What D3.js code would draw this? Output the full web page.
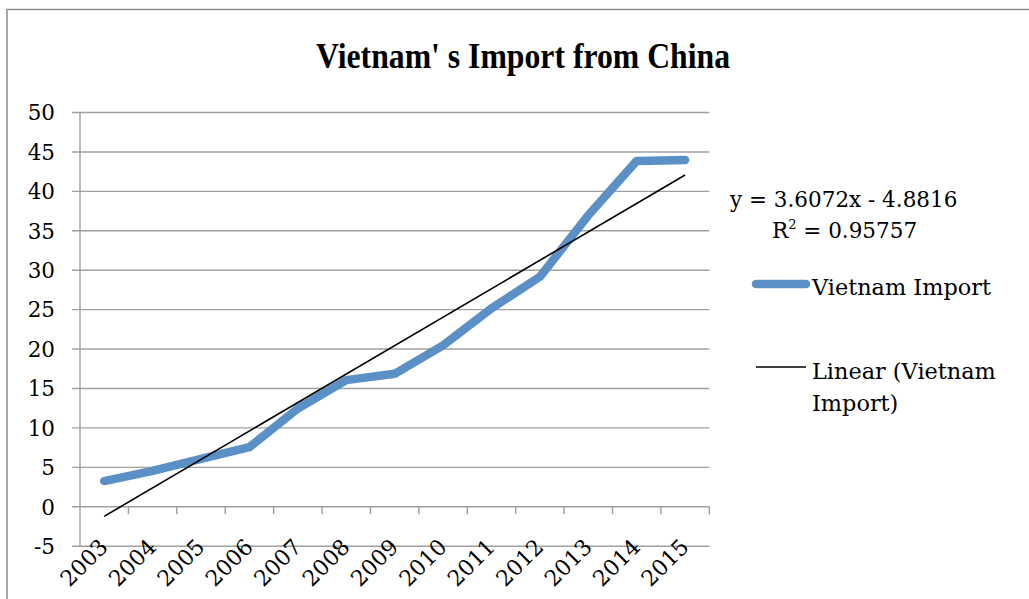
<!DOCTYPE html>
<html>
<head>
<meta charset="utf-8">
<script src="https://cdn.jsdelivr.net/npm/d3@7"></script>
<style>
  body { margin: 0; background: #fff; }
  svg { display: block; }
</style>
</head>
<body>
<svg id="chart" width="1029" height="599"></svg>
<script>
// Vietnam's imports from China, by year
const years = ["2003", "2004", "2005", "2006", "2007", "2008", "2009",
               "2010", "2011", "2012", "2013", "2014", "2015"];
const importValues = [3.2, 4.5, 6.0, 7.5, 12.4, 16.0, 16.8, 20.4, 25.1, 29.1, 36.9, 43.8, 43.9];
const yTicks = [-5, 0, 5, 10, 15, 20, 25, 30, 35, 40, 45, 50];

// Linear trend fitted over the series (x = 1..13)
const trendSlope = 3.6072;
const trendIntercept = -4.8816;
const trendR2 = 0.95757;

const chartTitle = "Vietnam' s Import from China";
const seriesName = "Vietnam Import";
const trendNameLines = ["Linear (Vietnam", "Import)"];

const FONT = "'DejaVu Serif', serif";
const GRID = "#a0a0a0";
const BLUE = "#5b90c7";

const svg = d3.select("#chart");

// frame
svg.append("path")
  .attr("d", "M7,599 L7,9.5 L1029,9.5")
  .attr("fill", "none")
  .attr("stroke", "#8c8c8c")
  .attr("stroke-width", 1.5);

const plotLeft = 80, plotRight = 709.3;
const x = d3.scaleBand().domain(years).range([plotLeft, plotRight]);
const y = d3.scaleLinear().domain([-5, 50]).range([545.7, 112]);

// title
svg.append("text")
  .attr("x", 523)
  .attr("y", 68)
  .attr("text-anchor", "middle")
  .attr("font-family", "'Liberation Serif', serif")
  .attr("font-weight", "bold")
  .attr("font-size", 35)
  .attr("textLength", 414)
  .attr("lengthAdjust", "spacingAndGlyphs")
  .text(chartTitle);

// y axis with full-width gridlines
const yAxis = svg.append("g")
  .attr("transform", "translate(72,0)")
  .call(d3.axisLeft(y).tickValues(yTicks).tickFormat(d => String(d))
    .tickSizeInner(-(plotRight - 72)).tickSizeOuter(0).tickPadding(17));
yAxis.select(".domain").remove();
yAxis.selectAll(".tick line").attr("stroke", GRID).attr("stroke-width", 1.4);
yAxis.selectAll(".tick text")
  .attr("font-family", FONT)
  .attr("font-size", 21.5)
  .attr("fill", "#000")
  .attr("dy", "0.36em");

// vertical axis line
svg.append("line")
  .attr("x1", plotLeft).attr("x2", plotLeft)
  .attr("y1", y(50)).attr("y2", y(-5))
  .attr("stroke", GRID).attr("stroke-width", 1.4);

// category tick marks below the zero line
const bw = x.bandwidth();
svg.append("g").selectAll("line")
  .data(years)
  .join("line")
  .attr("x1", d => x(d) + bw).attr("x2", d => x(d) + bw)
  .attr("y1", y(0)).attr("y2", y(0) + 8)
  .attr("stroke", GRID).attr("stroke-width", 1.4);

// category labels, rotated
const xAxis = svg.append("g")
  .attr("transform", `translate(0,${y(0)})`)
  .call(d3.axisBottom(x).tickSize(0).tickPadding(0));
xAxis.select(".domain").remove();
xAxis.selectAll(".tick text")
  .attr("font-family", FONT)
  .attr("font-size", 22)
  .attr("fill", "#000")
  .attr("text-anchor", "end")
  .attr("x", 0).attr("y", 0).attr("dy", 0)
  .attr("transform", "translate(5,42) rotate(-45)");

// data line
const cx = d => x(d) + bw / 2;
const line = d3.line().x(d => cx(d[0])).y(d => y(d[1]));
svg.append("path")
  .datum(years.map((yr, i) => [yr, importValues[i]]))
  .attr("d", line)
  .attr("fill", "none")
  .attr("stroke", BLUE)
  .attr("stroke-width", 8.5)
  .attr("stroke-linejoin", "round")
  .attr("stroke-linecap", "round");

// trendline
const trendPts = [years[0], years[years.length - 1]].map(yr => {
  const idx = years.indexOf(yr) + 1;
  return [yr, trendSlope * idx + trendIntercept];
});
svg.append("path")
  .datum(trendPts)
  .attr("d", line)
  .attr("fill", "none")
  .attr("stroke", "#000")
  .attr("stroke-width", 1.6);

// equation and R²
const eq = svg.append("g")
  .attr("font-family", FONT)
  .attr("font-size", 21.5)
  .attr("fill", "#000");
eq.append("text")
  .attr("x", 730).attr("y", 207)
  .text(`y = ${trendSlope}x - ${Math.abs(trendIntercept)}`);
const r2 = eq.append("text").attr("x", 772).attr("y", 238);
r2.append("tspan").text("R");
r2.append("tspan").attr("font-size", 13).attr("dy", -9).text("2");
r2.append("tspan").attr("dy", 9).text(` = ${trendR2}`);

// legend
const legend = svg.append("g")
  .attr("font-family", FONT)
  .attr("font-size", 22.4)
  .attr("fill", "#000");
legend.append("line")
  .attr("x1", 756).attr("x2", 806).attr("y1", 284).attr("y2", 284)
  .attr("stroke", BLUE).attr("stroke-width", 8.5).attr("stroke-linecap", "round");
legend.append("text").attr("x", 812).attr("y", 295).text(seriesName);
legend.append("line")
  .attr("x1", 756).attr("x2", 806).attr("y1", 367).attr("y2", 367)
  .attr("stroke", "#000").attr("stroke-width", 1.6);
legend.append("text").attr("x", 812).attr("y", 379).text(trendNameLines[0]);
legend.append("text").attr("x", 812).attr("y", 411).text(trendNameLines[1]);
</script>
</body>
</html>
